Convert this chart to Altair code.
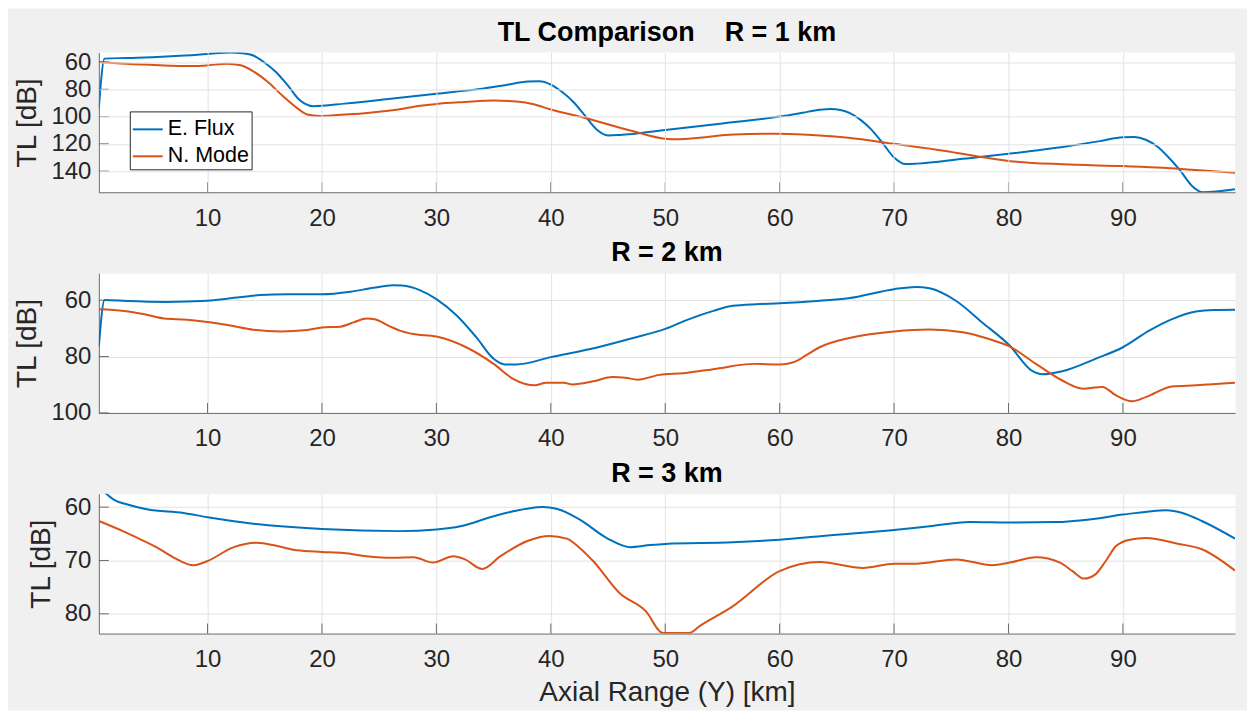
import altair as alt
import pandas as pd

FONT = "Liberation Sans"
SERIES = ["E. Flux", "N. Mode"]
SERIES_COLORS = ["#0072BD", "#D95319"]
RANGE_LIMITS = [0.5, 99.8]
RANGE_TICKS = [10, 20, 30, 40, 50, 60, 70, 80, 90]

# ---- R = 1 km ----
R1_TITLE = "TL Comparison\u00a0\u00a0\u00a0\u00a0R = 1 km"
R1_FLUX_Y = [0.5, 1.0, 3, 6, 8, 10, 11, 12, 13, 14, 15, 16, 17, 18, 18.5, 19.2, 22, 26, 30, 34,
             36, 38, 39, 40, 41, 42, 43, 44, 45, 46, 50, 55, 60, 62, 63.5, 64.5, 65.3, 66.1, 67.1, 68,
             69, 70, 71, 72, 76, 80, 85, 88, 90, 91, 92, 93, 94, 95, 96, 97, 99.8]
R1_FLUX_TL = [94, 57.5, 57, 56.2, 55.3, 54.1, 53.3, 53.0, 53.5, 55.2, 60.5, 67.5, 77, 87.5, 90.5, 92.4, 90.5, 87, 83.3, 79.5,
              77, 74.3, 74.1, 76.5, 82, 89.5, 99.5, 109.5, 113.8, 113.5, 109.8, 105, 100, 97.2, 95, 94.4, 95.2, 97.3, 102.6, 109.4,
              119.5, 130, 134.8, 134.5, 131, 127.3, 122, 118, 115.1, 115, 117, 122, 130, 139.5, 150.5, 155.5, 153.3]
R1_MODE_Y = [0.5, 2.4, 5, 8.8, 9.9, 11.7, 12.9, 14, 15.2, 16.6, 17.8, 18.7, 19.8, 22, 24, 26.5, 28.6, 30, 32.5, 35,
             37, 38.5, 40, 43, 47.2, 50, 51, 53, 56, 60, 63.5, 66, 70, 74.5, 77.5, 80, 84.7, 90, 93.5, 96, 99.8]
R1_MODE_TL = [60, 61, 62, 63, 62.5, 61.2, 62.4, 66.8, 74.1, 85.1, 93.6, 98.5, 99.6, 98.5, 97.3, 95, 92, 90.7, 89.3, 88.2,
              89, 91, 94.8, 101, 110.7, 116.2, 116.6, 115.5, 113.1, 112.6, 113.8, 115.5, 120, 125.3, 129.5, 132.5, 135, 136.3, 137.5, 139, 141.2]
R1_TL_LIMITS = [53, 155.5]
R1_TL_TICKS = [60, 80, 100, 120, 140]

# ---- R = 2 km ----
R2_TITLE = "R = 2 km"
R2_FLUX_Y = [0.5, 1.0, 3, 6.4, 10, 12, 14.6, 17, 20, 22.5, 24.5, 26.2, 27, 28.6, 30, 31.8, 33.5, 35, 36, 37,
             40, 44.3, 47.2, 50, 52.1, 54.2, 55.9, 58, 60, 63.5, 66, 70, 71.9, 73.1, 75.4, 77.7, 80.1, 82, 83, 84.7,
             87.6, 90, 92.3, 94.3, 96.4, 98, 99.8]
R2_FLUX_TL = [76.5, 59.9, 60.3, 60.6, 60.2, 59.3, 58.2, 57.9, 57.9, 57, 55.6, 54.7, 54.8, 56.5, 59.6, 65.5, 73.2, 80.8, 82.8, 82.8,
              80.2, 76.5, 73.4, 70.2, 66.7, 63.8, 62, 61.4, 61.1, 60.2, 59.3, 56.1, 55.3, 55.8, 60.2, 67.9, 76.1, 84.9, 86.3, 85.2,
              80.8, 76.7, 70.8, 66.7, 64, 63.5, 63.4]
R2_MODE_Y = [0.5, 2.7, 4.5, 6.2, 8.2, 10, 12, 14, 16.4, 18.7, 20, 21.6, 22.8, 23.9, 24.6, 25.8, 26.8, 28, 30, 32.6,
             35, 36.7, 38.6, 39.6, 41.1, 41.9, 43.7, 45.4, 46.5, 47.6, 49.5, 51.6, 54.5, 57.7, 60, 61.2, 62.3, 63.5, 66.1, 70,
             73.1, 76, 78.3, 80.1, 82.4, 84.7, 86.5, 88.2, 89.4, 90.8, 92, 94.3, 96.4, 99.8]
R2_MODE_TL = [63.2, 63.8, 65, 66.5, 66.9, 67.7, 69, 70.5, 71.1, 70.6, 69.7, 69.4, 67.8, 66.5, 66.8, 69, 70.8, 72, 72.9, 76.7,
              82.6, 87.9, 90.2, 89.3, 89.3, 89.9, 88.8, 87.3, 87.5, 88.2, 86.5, 85.9, 84.3, 82.6, 82.8, 82, 79.6, 76.7, 73.4, 71.1,
              70.4, 71.4, 73.8, 76.4, 82.6, 88.5, 91.4, 90.8, 93.8, 95.9, 94.4, 90.6, 90.2, 89.3]
R2_TL_LIMITS = [50.4, 100]
R2_TL_TICKS = [60, 80, 100]

# ---- R = 3 km ----
R3_TITLE = "R = 3 km"
R3_FLUX_Y = [0.5, 1.1, 1.8, 3, 4.7, 7.9, 10, 14, 20, 26.8, 30, 32.1, 35, 37.9, 39.3, 40.5, 42.5, 44.9, 46.9, 48.7,
             50, 55.9, 60, 64, 70, 73.1, 76.6, 80.1, 84.1, 87.1, 90, 92.3, 93.8, 95.2, 96.9, 99.8]
R3_FLUX_TL = [56.2, 57.4, 58.6, 59.5, 60.4, 61.1, 61.9, 63.1, 64.1, 64.5, 64.2, 63.6, 61.7, 60.3, 60, 60.3, 62.3, 65.8, 67.5, 67.1,
              66.9, 66.6, 66.1, 65.35, 64.3, 63.6, 62.8, 62.9, 62.8, 62.3, 61.4, 60.8, 60.6, 61.1, 62.6, 65.9]
R3_MODE_Y = [0.5, 2.5, 3.5, 5.6, 7, 8.8, 10, 12.3, 14.3, 16.1, 17.8, 20, 21.9, 23.9, 26.2, 28, 29.7, 31.5, 32.5, 34,
             35.6, 37.9, 39.9, 41.4, 42.5, 43.7, 46, 48.3, 49.8, 52.1, 53, 55.9, 60, 63.5, 67.3, 70, 71.9, 75.4, 78.6, 80.1,
             82.4, 84.5, 85.6, 86.6, 87.6, 88.5, 89.4, 90.6, 92, 94.9, 96.9, 99.8]
R3_MODE_TL = [62.6, 64.4, 65.4, 67.6, 69.4, 70.9, 70.1, 67.5, 66.7, 67.3, 68.1, 68.4, 68.6, 69.2, 69.5, 69.4, 70.4, 69.2, 69.8, 71.6,
              69.2, 66.4, 65.4, 65.9, 67.6, 70.1, 76.1, 79.5, 83.6, 83.6, 82.3, 78.6, 72, 70.3, 71.4, 70.6, 70.6, 69.8, 70.9, 70.4,
              69.4, 70.4, 72.0, 73.4, 72.6, 70.1, 67.3, 66.1, 65.8, 66.9, 67.9, 71.9]
R3_TL_LIMITS = [57.5, 83.7]
R3_TL_TICKS = [60, 70, 80]

PLOT_W, PLOT_H = 1138, 140
AXIS_COLOR = "#6b6b6b"
GRID_COLOR = "#e2e2e2"
FIG_BG = "#f0f0f0"


def panel(title, flux_y, flux_tl, mode_y, mode_tl, tl_limits, tl_ticks, first=False, last=False):
    df = pd.DataFrame({
        "range": list(flux_y) + list(mode_y),
        "tl": list(flux_tl) + list(mode_tl),
        "series": [SERIES[0]] * len(flux_y) + [SERIES[1]] * len(mode_y),
    })
    z = 1 if first else 0
    x_axis = alt.Axis(values=RANGE_TICKS, format="d", ticks=False, tickSize=0, labelPadding=14,
                      titlePadding=7, grid=True, zindex=z,
                      title="Axial Range (Y) [km]" if last else None)
    y_axis = alt.Axis(values=tl_ticks, format="d", ticks=False, tickSize=0, labelPadding=8,
                      titlePadding=9, grid=True, zindex=z, title="TL [dB]")
    x = alt.X("range:Q", scale=alt.Scale(domain=RANGE_LIMITS, nice=False, zero=False), axis=x_axis)
    y = alt.Y("tl:Q", scale=alt.Scale(domain=tl_limits, reverse=True, nice=False, zero=False), axis=y_axis)

    if first:
        legend = alt.Legend(orient="none", legendX=31, legendY=59, title=None, direction="vertical",
                            symbolType="stroke", symbolSize=900, symbolStrokeWidth=2,
                            labelFont=FONT, labelFontSize=21.5, labelColor="black", labelOffset=4,
                            fillColor="white", strokeColor="#262626", padding=2, rowPadding=0,
                            cornerRadius=0, zindex=2)
    else:
        legend = None

    lines = alt.Chart(df).mark_line(clip=True, strokeWidth=2, interpolate="monotone").encode(
        x=x, y=y,
        color=alt.Color("series:N", scale=alt.Scale(domain=SERIES, range=SERIES_COLORS), legend=legend),
    )
    # inward-pointing tick marks
    x_ticks = alt.Chart(pd.DataFrame({"range": RANGE_TICKS})).mark_rule(color=AXIS_COLOR, strokeWidth=1).encode(
        x=x, y=alt.value(PLOT_H), y2=alt.value(PLOT_H - 10))
    y_ticks = alt.Chart(pd.DataFrame({"tl": tl_ticks})).mark_rule(color=AXIS_COLOR, strokeWidth=1).encode(
        y=y, x=alt.value(0), x2=alt.value(10))
    # panel heading
    heading = alt.Chart(pd.DataFrame({"t": [title]})).mark_text(
        font=FONT, fontSize=27, fontWeight="bold", color="black", align="center", baseline="alphabetic"
    ).encode(x=alt.value(PLOT_W / 2), y=alt.value(-12), text="t:N")

    layers = [x_ticks, y_ticks, lines, heading]
    if first:
        # figure background (grey card with a thin white margin) and the white axes area
        frame = alt.Chart(pd.DataFrame({"k": [0]})).mark_rect(color=FIG_BG).encode(
            x=alt.value(-91), x2=alt.value(1150), y=alt.value(-44), y2=alt.value(659))
        plot_bg = alt.Chart(pd.DataFrame({"k": [0]})).mark_rect(color="white").encode(
            x=alt.value(0), x2=alt.value(PLOT_W), y=alt.value(0), y2=alt.value(PLOT_H))
        layers = [frame, plot_bg] + layers

    return alt.layer(*layers).properties(width=PLOT_W, height=PLOT_H)


p1 = panel(R1_TITLE, R1_FLUX_Y, R1_FLUX_TL, R1_MODE_Y, R1_MODE_TL, R1_TL_LIMITS, R1_TL_TICKS, first=True)
p2 = panel(R2_TITLE, R2_FLUX_Y, R2_FLUX_TL, R2_MODE_Y, R2_MODE_TL, R2_TL_LIMITS, R2_TL_TICKS)
p3 = panel(R3_TITLE, R3_FLUX_Y, R3_FLUX_TL, R3_MODE_Y, R3_MODE_TL, R3_TL_LIMITS, R3_TL_TICKS, last=True)

chart = alt.vconcat(p1, p2, p3, spacing=81, bounds="flush").resolve_scale(
    y="independent"
).resolve_legend(
    color="independent"
).properties(
    background="white",
    padding={"left": 7, "top": 7, "right": 4, "bottom": 1},
).configure_view(
    stroke="transparent", fill="white"
).configure_axis(
    labelFont=FONT, titleFont=FONT, labelFontSize=24, titleFontSize=28,
    labelColor="#262626", titleColor="#262626", titleFontWeight="normal",
    domainColor=AXIS_COLOR, domainWidth=1, gridColor=GRID_COLOR, gridWidth=1,
)

chart.save("out.html", embed_options={"renderer": "svg", "actions": False})
